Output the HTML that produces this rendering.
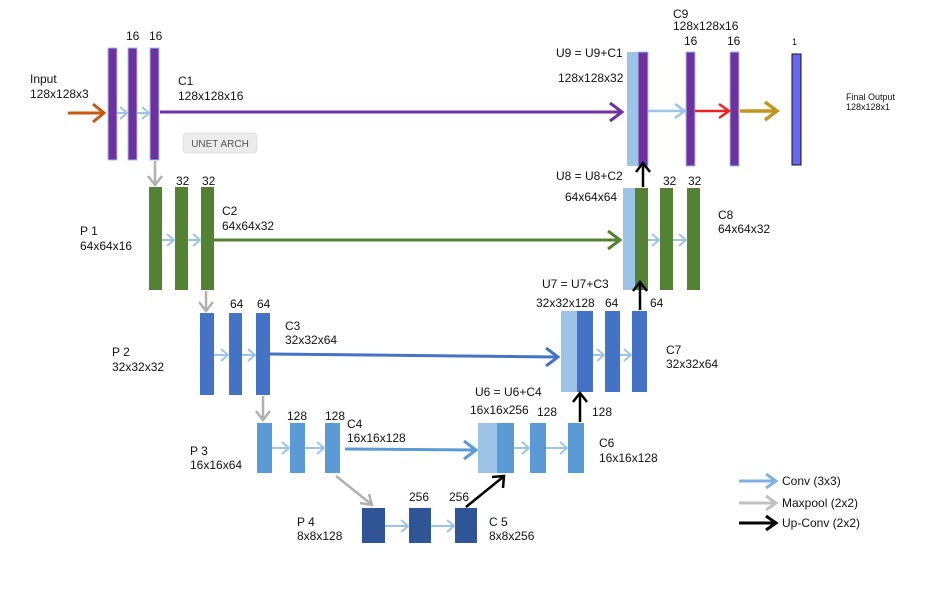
<!DOCTYPE html>
<html><head><meta charset="utf-8"><style>
html,body{margin:0;padding:0;background:#fff;}
svg{display:block;font-family:"Liberation Sans",Arial,sans-serif;}
text{font-size:12px;fill:#111;}
</style></head><body>
<svg width="928" height="592" viewBox="0 0 928 592" xmlns="http://www.w3.org/2000/svg">
<rect width="928" height="592" fill="#fff"/>
<g fill="none" stroke-linecap="butt" stroke-linejoin="miter">

<!-- Row 1 -->
<rect x="108" y="48" width="9" height="112" fill="#7030a0" stroke="#9dc3e6" stroke-width="1"/>
<rect x="128" y="48" width="9" height="112" fill="#7030a0" stroke="#9dc3e6" stroke-width="1"/>
<rect x="150" y="48" width="9" height="112" fill="#7030a0" stroke="#9dc3e6" stroke-width="1"/>
<line x1="68" y1="113" x2="103" y2="113" stroke="#c55a11" stroke-width="3"/>
<polyline points="93,104 104,113 93,122" stroke="#c55a11" stroke-width="3"/>
<line x1="117" y1="113" x2="127" y2="113" stroke="#9dc3e6" stroke-width="2"/>
<polyline points="120,107 127,113 120,119" stroke="#9dc3e6" stroke-width="2"/>
<line x1="137" y1="113" x2="149" y2="113" stroke="#9dc3e6" stroke-width="2"/>
<polyline points="142,107 149,113 142,119" stroke="#9dc3e6" stroke-width="2"/>
<line x1="160" y1="112" x2="622" y2="112" stroke="#7030a0" stroke-width="3"/>
<polyline points="610,103 622,112 610,121" stroke="#7030a0" stroke-width="3"/>
<line x1="155" y1="161" x2="155" y2="184" stroke="#b0b0b0" stroke-width="2.5"/>
<polyline points="148,176 155,185 162,176" stroke="#b0b0b0" stroke-width="2.5"/>

<!-- Row 2 -->
<rect x="149" y="187" width="13" height="103" fill="#548235"/>
<rect x="175" y="187" width="13" height="103" fill="#548235"/>
<rect x="201" y="187" width="13" height="103" fill="#548235"/>
<line x1="162" y1="240" x2="174" y2="240" stroke="#9dc3e6" stroke-width="2"/>
<polyline points="167,234 174,240 167,246" stroke="#9dc3e6" stroke-width="2"/>
<line x1="188" y1="240" x2="200" y2="240" stroke="#9dc3e6" stroke-width="2"/>
<polyline points="193,234 200,240 193,246" stroke="#9dc3e6" stroke-width="2"/>
<line x1="214" y1="240" x2="620" y2="240" stroke="#548235" stroke-width="3"/>
<polyline points="608,231 620,240 608,249" stroke="#548235" stroke-width="3"/>
<line x1="206" y1="291" x2="206" y2="310" stroke="#b0b0b0" stroke-width="2.5"/>
<polyline points="199,302 206,311 213,302" stroke="#b0b0b0" stroke-width="2.5"/>

<!-- Row 3 -->
<rect x="200" y="313" width="14" height="82" fill="#4472c4"/>
<rect x="229" y="313" width="13" height="82" fill="#4472c4"/>
<rect x="256" y="313" width="14" height="82" fill="#4472c4"/>
<line x1="214" y1="355" x2="228" y2="355" stroke="#9dc3e6" stroke-width="2"/>
<polyline points="221,349 228,355 221,361" stroke="#9dc3e6" stroke-width="2"/>
<line x1="242" y1="355" x2="255" y2="355" stroke="#9dc3e6" stroke-width="2"/>
<polyline points="248,349 255,355 248,361" stroke="#9dc3e6" stroke-width="2"/>
<line x1="270" y1="354" x2="558" y2="357" stroke="#4472c4" stroke-width="3"/>
<polyline points="546,348 558,357 546,366" stroke="#4472c4" stroke-width="3"/>
<line x1="263" y1="396" x2="263" y2="419" stroke="#b0b0b0" stroke-width="2.5"/>
<polyline points="256,411 263,420 270,411" stroke="#b0b0b0" stroke-width="2.5"/>

<!-- Row 4 -->
<rect x="257" y="423" width="15" height="50" fill="#5b9bd5"/>
<rect x="290" y="423" width="15" height="50" fill="#5b9bd5"/>
<rect x="325" y="423" width="15" height="50" fill="#5b9bd5"/>
<line x1="272" y1="448" x2="289" y2="448" stroke="#9dc3e6" stroke-width="2"/>
<polyline points="282,442 289,448 282,454" stroke="#9dc3e6" stroke-width="2"/>
<line x1="305" y1="448" x2="324" y2="448" stroke="#9dc3e6" stroke-width="2"/>
<polyline points="317,442 324,448 317,454" stroke="#9dc3e6" stroke-width="2"/>
<line x1="345" y1="449" x2="476" y2="450" stroke="#5b9bd5" stroke-width="3"/>
<polyline points="464,441 476,450 464,459" stroke="#5b9bd5" stroke-width="3"/>
<line x1="336" y1="476" x2="371" y2="504" stroke="#b0b0b0" stroke-width="2.5"/>
<polyline points="360,503 372,505 369,494" stroke="#b0b0b0" stroke-width="2.5"/>

<!-- Row 5 -->
<rect x="362" y="508" width="23" height="35" fill="#2f5597"/>
<rect x="409" y="508" width="22" height="35" fill="#2f5597"/>
<rect x="455" y="508" width="22" height="35" fill="#2f5597"/>
<line x1="385" y1="526" x2="408" y2="526" stroke="#9dc3e6" stroke-width="2"/>
<polyline points="401,520 408,526 401,532" stroke="#9dc3e6" stroke-width="2"/>
<line x1="431" y1="526" x2="454" y2="526" stroke="#9dc3e6" stroke-width="2"/>
<polyline points="447,520 454,526 447,532" stroke="#9dc3e6" stroke-width="2"/>

<!-- U6 / C6 -->
<rect x="478" y="423" width="19" height="50" fill="#9dc3e6"/>
<rect x="497" y="423" width="17" height="50" fill="#5b9bd5"/>
<rect x="530" y="423" width="16" height="50" fill="#5b9bd5"/>
<rect x="568" y="423" width="16" height="50" fill="#5b9bd5"/>
<line x1="514" y1="448" x2="529" y2="448" stroke="#9dc3e6" stroke-width="2"/>
<polyline points="522,442 529,448 522,454" stroke="#9dc3e6" stroke-width="2"/>
<line x1="546" y1="448" x2="567" y2="448" stroke="#9dc3e6" stroke-width="2"/>
<polyline points="560,442 567,448 560,454" stroke="#9dc3e6" stroke-width="2"/>

<!-- U7 / C7 -->
<rect x="561" y="311" width="16" height="81" fill="#9dc3e6"/>
<rect x="577" y="311" width="16" height="81" fill="#4472c4"/>
<rect x="605" y="311" width="15" height="81" fill="#4472c4"/>
<rect x="632" y="311" width="15" height="81" fill="#4472c4"/>
<line x1="593" y1="355" x2="604" y2="355" stroke="#9dc3e6" stroke-width="2"/>
<polyline points="597,349 604,355 597,361" stroke="#9dc3e6" stroke-width="2"/>
<line x1="620" y1="355" x2="631" y2="355" stroke="#9dc3e6" stroke-width="2"/>
<polyline points="624,349 631,355 624,361" stroke="#9dc3e6" stroke-width="2"/>

<!-- U8 / C8 -->
<rect x="623" y="188" width="12" height="102" fill="#9dc3e6"/>
<rect x="635" y="188" width="13" height="102" fill="#548235"/>
<rect x="660" y="188" width="13" height="102" fill="#548235"/>
<rect x="687" y="188" width="13" height="102" fill="#548235"/>
<line x1="648" y1="240" x2="659" y2="240" stroke="#9dc3e6" stroke-width="2"/>
<polyline points="652,234 659,240 652,246" stroke="#9dc3e6" stroke-width="2"/>
<line x1="673" y1="240" x2="686" y2="240" stroke="#9dc3e6" stroke-width="2"/>
<polyline points="679,234 686,240 679,246" stroke="#9dc3e6" stroke-width="2"/>

<!-- U9 / C9 -->
<rect x="627" y="52" width="11" height="114" fill="#9dc3e6"/>
<rect x="638" y="52" width="10" height="114" fill="#7030a0" stroke="#9dc3e6" stroke-width="1"/>
<rect x="686" y="52" width="9" height="114" fill="#7030a0" stroke="#9dc3e6" stroke-width="1"/>
<rect x="730" y="52" width="9" height="114" fill="#7030a0" stroke="#9dc3e6" stroke-width="1"/>
<rect x="792" y="54" width="9" height="111" fill="#6666ee" stroke="#111" stroke-width="1"/>
<line x1="648" y1="111" x2="685" y2="111" stroke="#9dc3e6" stroke-width="2.5"/>
<polyline points="675,104 685,111 675,118" stroke="#9dc3e6" stroke-width="2.5"/>
<line x1="695" y1="111" x2="729" y2="111" stroke="#ee2020" stroke-width="2.5"/>
<polyline points="719,104 729,111 719,118" stroke="#ee2020" stroke-width="2.5"/>
<line x1="740" y1="111" x2="776" y2="111" stroke="#c0961e" stroke-width="3.5"/>
<polyline points="765,102 777,111 765,120" stroke="#c0961e" stroke-width="3.5"/>

<!-- Up-conv arrows (on top) -->
<line x1="466" y1="507" x2="503" y2="477" stroke="#000" stroke-width="2.5"/>
<polyline points="492,477 504,476 503,488" stroke="#000" stroke-width="2.5"/>
<line x1="580" y1="422" x2="580" y2="394" stroke="#000" stroke-width="2.5"/>
<polyline points="573,402 580,393 587,402" stroke="#000" stroke-width="2.5"/>
<line x1="640" y1="310" x2="640" y2="283" stroke="#000" stroke-width="2.5"/>
<polyline points="633,291 640,282 647,291" stroke="#000" stroke-width="2.5"/>
<line x1="643" y1="187" x2="643" y2="164" stroke="#000" stroke-width="2.5"/>
<polyline points="636,172 643,163 650,172" stroke="#000" stroke-width="2.5"/>

<!-- Legend -->
<line x1="739" y1="481" x2="775" y2="481" stroke="#7fb0e8" stroke-width="3"/>
<polyline points="766,474 776,481 766,488" stroke="#7fb0e8" stroke-width="3"/>
<line x1="739" y1="503" x2="775" y2="503" stroke="#c0c0c0" stroke-width="3"/>
<polyline points="766,496 776,503 766,510" stroke="#c0c0c0" stroke-width="3"/>
<line x1="739" y1="523" x2="775" y2="523" stroke="#000" stroke-width="3"/>
<polyline points="766,516 776,523 766,530" stroke="#000" stroke-width="3"/>
</g>

<rect x="183" y="133" width="74" height="20" rx="4" fill="#ececec" stroke="#dcdcdc"/>
<text x="220" y="147" text-anchor="middle" style="font-size:10px;fill:#555">UNET ARCH</text>

<text x="30" y="83">Input</text><text x="30" y="98">128x128x3</text>
<text x="126" y="40">16</text><text x="149" y="40">16</text>
<text x="178" y="85">C1</text><text x="178" y="100">128x128x16</text>
<text x="176" y="185">32</text><text x="202" y="185">32</text>
<text x="80" y="235">P 1</text><text x="80" y="250">64x64x16</text>
<text x="222" y="215">C2</text><text x="222" y="230">64x64x32</text>
<text x="230" y="308">64</text><text x="257" y="308">64</text>
<text x="112" y="356">P 2</text><text x="112" y="371">32x32x32</text>
<text x="285" y="330">C3</text><text x="285" y="344">32x32x64</text>
<text x="287" y="420">128</text><text x="325" y="420">128</text>
<text x="347" y="428">C4</text><text x="347" y="442">16x16x128</text>
<text x="190" y="455">P 3</text><text x="190" y="469">16x16x64</text>
<text x="409" y="501">256</text><text x="449" y="501">256</text>
<text x="297" y="526">P 4</text><text x="297" y="540">8x8x128</text>
<text x="489" y="526">C 5</text><text x="489" y="540">8x8x256</text>
<text x="475" y="396">U6 = U6+C4</text>
<text x="470" y="414">16x16x256</text>
<text x="537" y="416">128</text>
<text x="592" y="416">128</text>
<text x="599" y="447">C6</text><text x="599" y="462">16x16x128</text>
<text x="542" y="288">U7 = U7+C3</text>
<text x="536" y="307">32x32x128</text>
<text x="605" y="307">64</text><text x="650" y="307">64</text>
<text x="666" y="354">C7</text><text x="666" y="368">32x32x64</text>
<text x="556" y="180">U8 = U8+C2</text>
<text x="565" y="201">64x64x64</text>
<text x="663" y="185">32</text><text x="688" y="185">32</text>
<text x="718" y="219">C8</text><text x="718" y="233">64x64x32</text>
<text x="556" y="57">U9 = U9+C1</text>
<text x="558" y="82">128x128x32</text>
<text x="673" y="18">C9</text><text x="673" y="30">128x128x16</text>
<text x="684" y="45">16</text><text x="727" y="45">16</text>
<text x="792" y="45" style="font-size:9px">1</text>
<text x="846" y="100" style="font-size:9px">Final Output</text>
<text x="846" y="110" style="font-size:9px">128x128x1</text>
<text x="782" y="485">Conv (3x3)</text>
<text x="782" y="507">Maxpool (2x2)</text>
<text x="782" y="527">Up-Conv (2x2)</text>
</svg>
</body></html>
